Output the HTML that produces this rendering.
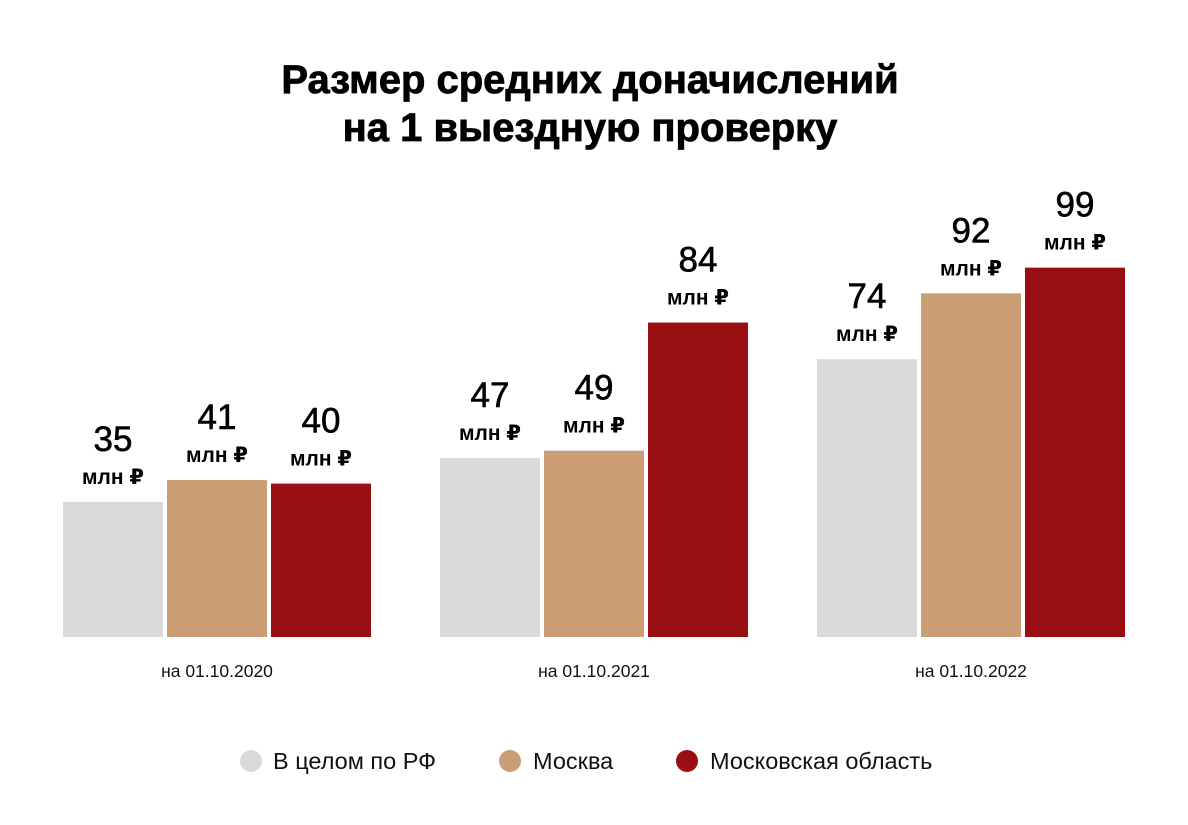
<!DOCTYPE html>
<html><head><meta charset="utf-8"><style>
body{margin:0;background:#fff;}
svg text{font-family:"Liberation Sans","DejaVu Sans",sans-serif;}
</style></head><body>
<svg width="1188" height="820" viewBox="0 0 1188 820" xmlns="http://www.w3.org/2000/svg">
<text x="590" y="93" text-anchor="middle" font-size="40" font-weight="bold" fill="#000" stroke="#000" stroke-width="0.8">Размер средних доначислений</text>
<text x="590" y="141" text-anchor="middle" font-size="40" font-weight="bold" fill="#000" stroke="#000" stroke-width="0.8">на 1 выездную проверку</text>
<g id="bars"></g>
<g>
<circle cx="251" cy="761" r="11" fill="#d9d9d9"/>
<text x="273" y="769" font-size="23.5" fill="#111">В целом по РФ</text>
<circle cx="510" cy="761" r="11" fill="#cc9e75"/>
<text x="533" y="769" font-size="23.5" fill="#111">Москва</text>
<circle cx="687" cy="761" r="11" fill="#990f12"/>
<text x="710" y="769" font-size="23.5" fill="#111">Московская область</text>
</g>
</svg>
<script>
const categories = ["на 01.10.2020","на 01.10.2021","на 01.10.2022"];
const seriesRF = [35,47,74];
const seriesMoscow = [41,49,92];
const seriesRegion = [40,84,99];
const series = [seriesRF, seriesMoscow, seriesRegion];
const colors = ["#d9d9d9","#cc9e75","#990f12"];
const names = ["rf","moscow","region"];
const baseY = 637;
function yScale(v){ return baseY - (3.66*v + 7); }
function xBar(g,s){ return 63 + g*377 + s*104; }
const NS="http://www.w3.org/2000/svg";
const root=document.getElementById('bars');
categories.forEach((c,g)=>{
  series.forEach((arr,s)=>{
    const v=arr[g], x=xBar(g,s), y=yScale(v);
    const r=document.createElementNS(NS,'rect');
    r.setAttribute('x',x);r.setAttribute('y',y);r.setAttribute('width',100);r.setAttribute('height',baseY-y);r.setAttribute('fill',colors[s]);
    
    
    root.appendChild(r);
    const t=document.createElementNS(NS,'text');
    t.setAttribute('x',x+50);t.setAttribute('y',y-51);t.setAttribute('text-anchor','middle');t.setAttribute('font-size','35');t.setAttribute('fill','#000');t.setAttribute('stroke','#000');t.setAttribute('stroke-width','0.6');
    t.textContent=v;
    
    
    root.appendChild(t);
    const u=document.createElementNS(NS,'text');
    u.setAttribute('x',x+50);u.setAttribute('y',y-18);u.setAttribute('text-anchor','middle');u.setAttribute('font-size','21');u.setAttribute('font-weight','bold');u.setAttribute('fill','#000');
    u.textContent='млн ₽';
    
    
    root.appendChild(u);
  });
  const ct=document.createElementNS(NS,'text');
  ct.setAttribute('x',xBar(g,1)+50);ct.setAttribute('y',677);ct.setAttribute('text-anchor','middle');ct.setAttribute('font-size','17.5');ct.setAttribute('fill','#111');
  ct.textContent=c;
  
  
  root.appendChild(ct);
});
</script>
</body></html>
